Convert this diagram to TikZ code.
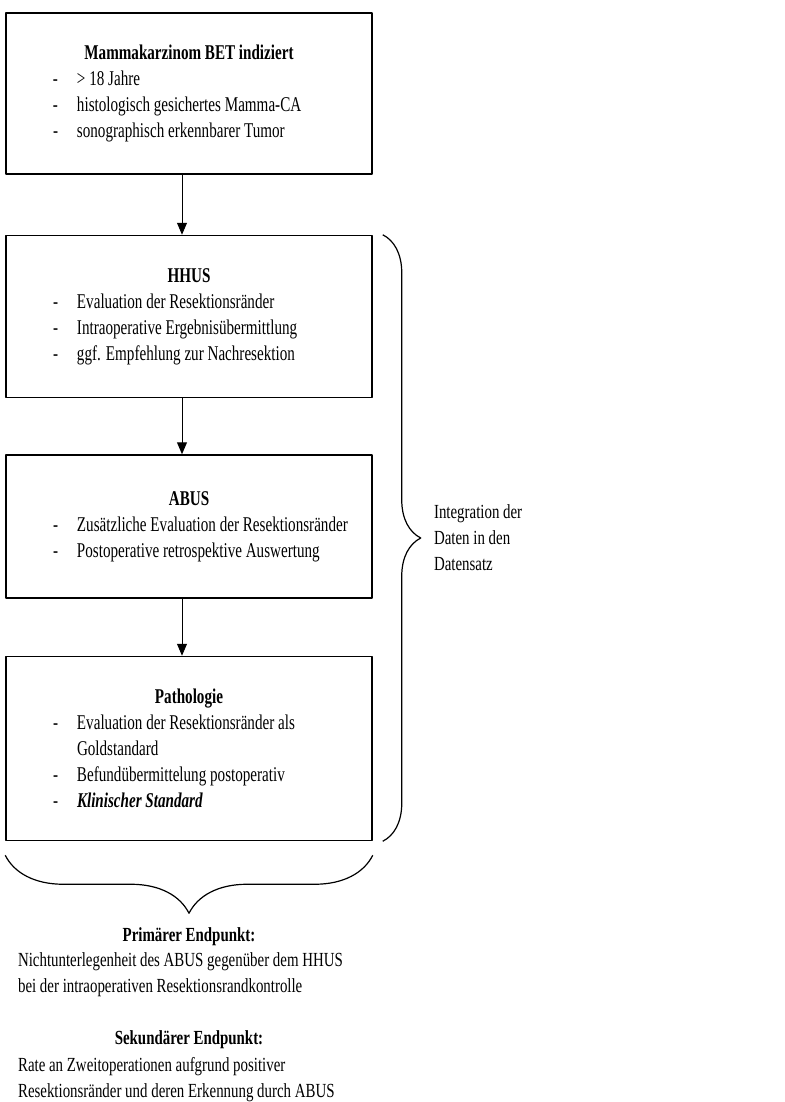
\documentclass[tikz,border=0pt]{standalone}
\usepackage{fontspec}
\setmainfont[FakeStretch=0.745]{Liberation Serif}
\newfontfamily\kastfont[FakeStretch=0.72]{Liberation Serif}
\usetikzlibrary{positioning,arrows.meta,decorations.pathreplacing}
\newcommand{\kopf}[1]{{\centering\bfseries #1\par}}
\newcommand{\pkt}[1]{\par\hangindent=35.5pt\hangafter=1\noindent\hspace*{23.5pt}\makebox[12pt][l]{-}#1}
\begin{document}
\begin{tikzpicture}[x=0.5pt, y=-0.5pt, line join=round, >={Triangle[length=6pt,width=5pt]}, font=\fontsize{10pt}{13pt}\selectfont,
	kasten/.style={draw, line width=0.75pt, inner sep=0pt, text width=183pt, align=flush left, font=\kastfont\fontsize{10.5pt}{13pt}\selectfont},
	pfeil/.style={->, line width=0.5pt},
	klammer/.style 2 args={decorate, line width=0.6pt, decoration={brace, amplitude=#1, raise=#2}}]
	\useasboundingbox (0,0) rectangle (784,1102);
	% Ablauf
	\node[kasten, minimum height=80.5pt] (mamma) at (189,93.5) {\kopf{Mammakarzinom BET indiziert}
		\pkt{> 18 Jahre}
		\pkt{histologisch gesichertes Mamma-CA}
		\pkt{sonographisch erkennbarer Tumor}};
	\node[kasten, minimum height=81pt, below=30pt of mamma] (hhus) {\kopf{HHUS}
		\pkt{Evaluation der Resektionsränder}
		\pkt{Intraoperative Ergebnisübermittlung}
		\pkt{ggf. Empfehlung zur Nachresektion}};
	\node[kasten, minimum height=71.5pt, below=28pt of hhus] (abus) {\kopf{ABUS}
		\pkt{Zusätzliche Evaluation der Resektionsränder}
		\pkt{Postoperative retrospektive Auswertung}};
	\node[kasten, minimum height=92pt, below=28.5pt of abus] (patho) {\kopf{Pathologie}
		\pkt{Evaluation der Resektionsränder als\hfil\break Goldstandard}
		\pkt{Befundübermittelung postoperativ}
		\pkt{\textbf{\textit{Klinischer Standard}}}};
	\draw[pfeil] ([xshift=-3.5pt]mamma.south) -- ([xshift=-3.5pt]hhus.north);
	\draw[pfeil] ([xshift=-3.5pt]hhus.south) -- ([xshift=-3.5pt]abus.north);
	\draw[pfeil] ([xshift=-3.5pt]abus.south) -- ([xshift=-3.5pt]patho.north);
	% Klammern
	\draw[klammer={19pt}{5pt}] (hhus.north east) -- (patho.south east);
	\draw[klammer={29pt}{7pt}] (patho.south east) -- (patho.south west);
	\node[anchor=west, align=left] (integ) at (427,538) {Integration der\\Daten in den\\Datensatz};
	% Endpunkte
	\node (prim) at (189,937) {\textbf{Primärer Endpunkt:}};
	\node[anchor=west, align=left] (primtxt) at (11,974.5) {Nichtunterlegenheit des ABUS gegenüber dem HHUS\\bei der intraoperativen Resektionsrandkontrolle};
	\node (sek) at (189,1040) {\textbf{Sekundärer Endpunkt:}};
	\node[anchor=west, align=left] (sektxt) at (11,1079.5) {Rate an Zweitoperationen aufgrund positiver\\Resektionsränder und deren Erkennung durch ABUS};
\end{tikzpicture}
\end{document}
